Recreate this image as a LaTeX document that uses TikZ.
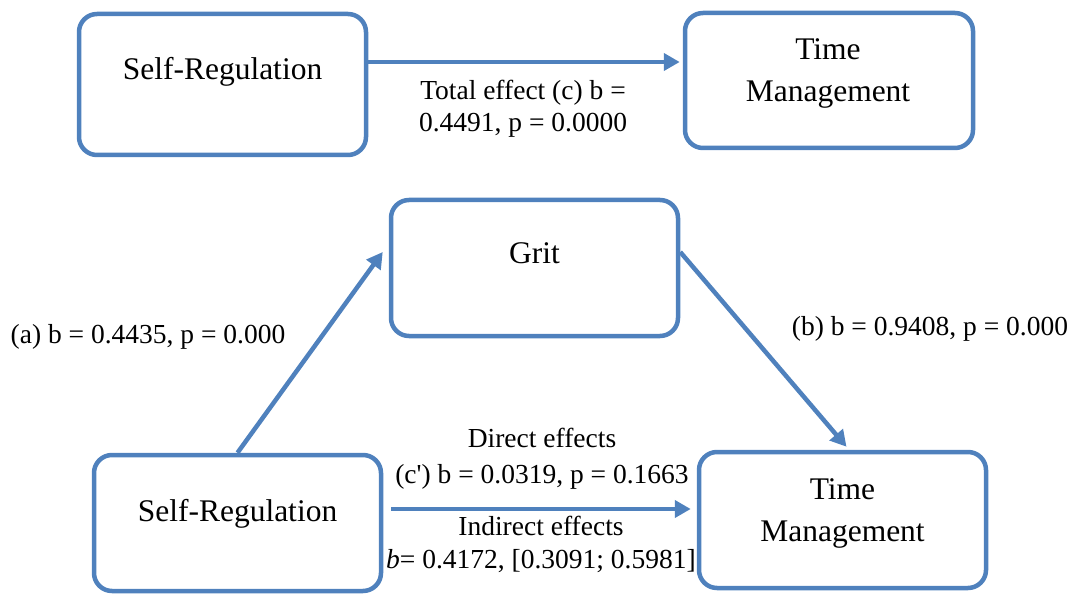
\documentclass[tikz,border=0pt]{standalone}
\usepackage{fontspec}
\setmainfont{Liberation Serif}
\usepackage{tikz}
\usetikzlibrary{calc, positioning, arrows.meta}
\definecolor{boxblue}{RGB}{79,129,189}

\begin{document}
\begin{tikzpicture}[x=1pt, y=-1pt,
    box/.style={draw=boxblue, line width=4.5pt, rounded corners=18pt, minimum width=287pt, minimum height=136pt, inner sep=0pt},
    boxtxt/.style={anchor=base, inner sep=0pt, align=center, font=\fontsize{31.5}{42}\selectfont},
    lbl/.style={anchor=base, inner sep=0pt, align=center, font=\fontsize{27.5}{32}\selectfont},
    arr/.style={draw=boxblue, line width=4.5pt, -{Triangle[length=16pt,width=17pt]}}]
    \useasboundingbox (0,0) rectangle (1073,596);
    % Top row: total effect
    \node[box, minimum height=141pt] (srTop) at (222.5,84.5) {};
    \node[box, minimum width=288pt, minimum height=135pt] (tmTop) at (829,80.5) {};
    \node[boxtxt] (srTopTxt) at ($(srTop.center)+(0,-4.5)$) {Self-Regulation};
    \node[boxtxt] (tmTopTxt) at ($(tmTop.center)+(-1,21.5)$) {Time\\Management};
    \draw[arr] ($(srTop.east)+(0,-22.5)$) -- ($(tmTop.west)+(-3,-18.5)$);
    \node[lbl] (totalLbl) at (523,132) {Total effect (c) b =\\0.4491, p = 0.0000};
    % Mediation model
    \node[box] (grit) at (534.5,268) {};
    \node[box] (srBot) at (237.5,523) {};
    \node[box] (tmBot) at (842.5,520) {};
    \node[boxtxt] (gritTxt) at ($(grit.center)+(0,-5)$) {Grit};
    \node[boxtxt] (srBotTxt) at ($(srBot.center)+(0,-2)$) {Self-Regulation};
    \node[boxtxt] (tmBotTxt) at ($(tmBot.center)+(0,21)$) {Time\\Management};
    \draw[arr] (srBot.north) -- ($(grit.west)+(-6,-16)$);
    \draw[arr] ($(grit.east)+(0,-16)$) -- ($(tmBot.north)+(4,-3)$);
    \draw[arr] ($(srBot.east)+(8,-14)$) -- ($(tmBot.west)+(-6,-11)$);
    \node[lbl] (aLbl) at (148,343) {(a) b = 0.4435, p = 0.000};
    \node[lbl] (bLbl) at (930,335) {(b) b = 0.9408, p = 0.000};
    \node[lbl] (directLbl) at (542,483) {Direct effects\\[4pt](c\textquotesingle) b = 0.0319, p = 0.1663};
    \node[lbl] (indirectLbl) at (541,568) {Indirect effects\\[1pt]\textit{b}= 0.4172, [0.3091; 0.5981]};
\end{tikzpicture}
\end{document}
